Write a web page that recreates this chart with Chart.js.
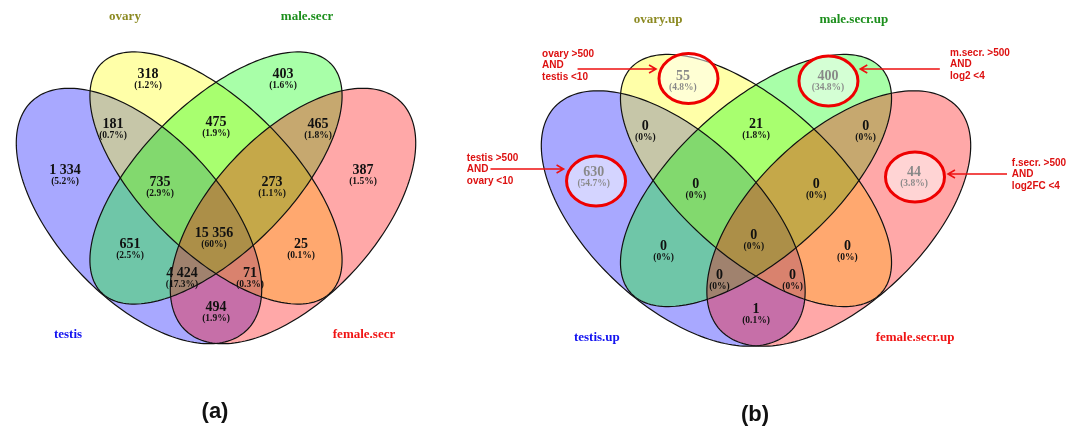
<!DOCTYPE html>
<html>
<head>
<meta charset="utf-8">
<script src="https://cdn.jsdelivr.net/npm/chart.js@4.4.1/dist/chart.umd.min.js"></script>
<style>
html, body { margin: 0; padding: 0; background: #fff; }
#wrap { width: 1081px; height: 429px; position: relative; }
</style>
</head>
<body>
<div id="wrap"><canvas id="venn"></canvas></div>
<script>
// region order: T=testis, O=ovary, M=male.secr, F=female.secr
const regions = ['T', 'O', 'M', 'F', 'TO', 'TM', 'TF', 'OM', 'OF', 'MF', 'TOM', 'TOF', 'TMF', 'OMF', 'TOMF'];

const setsA = ['testis', 'ovary', 'male.secr', 'female.secr'];
const countsA = [1334, 318, 403, 387, 181, 651, 494, 475, 25, 465, 735, 71, 4424, 273, 15356];
const pctA = [5.2, 1.2, 1.6, 1.5, 0.7, 2.5, 1.9, 1.9, 0.1, 1.8, 2.9, 0.3, 17.3, 1.1, 60];

const setsB = ['testis.up', 'ovary.up', 'male.secr.up', 'female.secr.up'];
const countsB = [630, 55, 400, 44, 0, 0, 1, 21, 0, 0, 0, 0, 0, 0, 0];
const pctB = [54.7, 4.8, 34.8, 3.8, 0, 0, 0.1, 1.8, 0, 0, 0, 0, 0, 0, 0];
const highlightB = ['T', 'O', 'M', 'F'];

const notesB = [
  ['testis >500', 'AND', 'ovary <10'],
  ['ovary >500', 'AND', 'testis <10'],
  ['m.secr. >500', 'AND', 'log2 <4'],
  ['f.secr. >500', 'AND', 'log2FC <4']
];
const panelTitles = ['(a)', '(b)'];

// ---- layout (units = px of panel a, offset from diagram centre, y down) ----
const fillCols = ['rgba(0,0,255,0.34)', 'rgba(255,255,0,0.34)', 'rgba(0,255,0,0.34)', 'rgba(255,0,0,0.34)'];
const catCols = ['#1414f0', '#8c8a22', '#1c8f1c', '#f01414'];
const ellipses = [ // cx, cy, a, b, angle
  [-77, 34, 157, 82, 47],
  [0, -4, 162, 74.5, 45],
  [0, -4, 162, 74.5, -45],
  [77, 34, 157, 82, -47]
];
const labelXY = {
  T: [-151, -12], O: [-68, -108], M: [67, -108], F: [147, -12],
  TO: [-103, -58], TM: [-86, 62], TF: [0, 125], OM: [0, -60], OF: [85, 62], MF: [102, -58],
  TOM: [-56, 0], TOF: [34, 91], TMF: [-34, 91], OMF: [56, 0], TOMF: [-2, 51]
};
const catXY = [[-148, 153], [-91, -165], [91, -165], [148, 153]];
const titleXY = [-1, 230];
// notes: text left, first line y, arrow x1, arrow x2, arrow y
const noteXY = [
  [-269, -26.5, -247, -179, -15.5],
  [-199, -130.5, -166, -93, -115.5],
  [180.5, -131.5, 171, 97, -115.5],
  [238, -21.5, 233.5, 178.6, -10.5]
];
const ringXY = { T: [-148.8, -3.5], O: [-62.8, -106], M: [67.4, -103.5], F: [147.9, -7.5] };

const W = 1081, H = 429;
const panelA = { cx: 216, cy: 182, sx: 1 };
const panelB = { cx: 756, cy: 184.5, sx: 1.075 };

function fmt(n) { return String(n).replace(/\B(?=(\d{3})+(?!\d))/g, ' '); }

const serif = '"Liberation Serif", "Times New Roman", serif';
const sans = '"Liberation Sans", Arial, sans-serif';

function ellipsePath(ctx, xs, ys, e) {
  const [cx, cy, a, b, deg] = e;
  const r = deg * Math.PI / 180;
  ctx.beginPath();
  for (let i = 0; i <= 200; i++) {
    const t = i / 200 * 2 * Math.PI;
    const x = cx + a * Math.cos(t) * Math.cos(r) - b * Math.sin(t) * Math.sin(r);
    const y = cy + a * Math.cos(t) * Math.sin(r) + b * Math.sin(t) * Math.cos(r);
    const px = xs.getPixelForValue(x), py = ys.getPixelForValue(y);
    if (i) ctx.lineTo(px, py); else ctx.moveTo(px, py);
  }
  ctx.closePath();
}

const panels = [
  { xs: 'xa', ys: 'ya', sets: setsA, counts: countsA, pct: pctA, ds: 0 },
  { xs: 'xb', ys: 'yb', sets: setsB, counts: countsB, pct: pctB, ds: 1 }
];

const vennPlugin = {
  id: 'venn',
  beforeDatasetsDraw(chart) {
    const ctx = chart.ctx;
    panels.forEach(p => {
      const xs = chart.scales[p.xs], ys = chart.scales[p.ys];
      ellipses.forEach((e, i) => {
        ellipsePath(ctx, xs, ys, e);
        ctx.fillStyle = fillCols[i];
        ctx.fill();
      });
      ctx.strokeStyle = '#111';
      ctx.lineWidth = 1.2;
      ellipses.forEach(e => { ellipsePath(ctx, xs, ys, e); ctx.stroke(); });
    });
  },
  afterDatasetsDraw(chart) {
    const ctx = chart.ctx;
    ctx.save();
    ctx.textAlign = 'center';
    ctx.textBaseline = 'middle';
    panels.forEach((p, pi) => {
      const xs = chart.scales[p.xs], ys = chart.scales[p.ys];
      const meta = chart.getDatasetMeta(p.ds);
      regions.forEach((r, i) => {
        const pt = meta.data[i];
        ctx.fillStyle = '#111';
        ctx.font = 'bold 14px ' + serif;
        ctx.fillText(fmt(p.counts[i]), pt.x, pt.y);
        ctx.font = 'bold 9.5px ' + serif;
        ctx.fillText('(' + p.pct[i] + '%)', pt.x, pt.y + 11.5);
      });
      p.sets.forEach((s, i) => {
        ctx.fillStyle = catCols[i];
        ctx.font = 'bold 13px ' + serif;
        ctx.fillText(s, xs.getPixelForValue(catXY[i][0]), ys.getPixelForValue(catXY[i][1]));
      });
      ctx.fillStyle = '#111';
      ctx.font = 'bold 22px ' + sans;
      ctx.fillText(panelTitles[pi], xs.getPixelForValue(titleXY[0]), ys.getPixelForValue(titleXY[1]));
    });

    // highlighted regions of panel b
    const xs = chart.scales.xb, ys = chart.scales.yb;
    highlightB.forEach(r => {
      const cx = xs.getPixelForValue(ringXY[r][0]), cy = ys.getPixelForValue(ringXY[r][1]);
      ctx.beginPath();
      ctx.ellipse(cx, cy, 29.5, 25, 0, 0, 2 * Math.PI);
      ctx.fillStyle = 'rgba(255,255,255,0.5)';
      ctx.fill();
      ctx.strokeStyle = '#ee0000';
      ctx.lineWidth = 3;
      ctx.stroke();
    });

    notesB.forEach((lines, i) => {
      const [tx, ty, x1, x2, ay] = noteXY[i];
      ctx.fillStyle = '#dd1111';
      ctx.font = 'bold 10px ' + sans;
      ctx.textAlign = 'left';
      lines.forEach((l, j) => ctx.fillText(l, xs.getPixelForValue(tx), ys.getPixelForValue(ty) + j * 11.5));
      const px1 = xs.getPixelForValue(x1), px2 = xs.getPixelForValue(x2), py = ys.getPixelForValue(ay);
      const dir = Math.sign(px2 - px1);
      ctx.strokeStyle = '#ee1111';
      ctx.lineWidth = 1.6;
      ctx.beginPath();
      ctx.moveTo(px1, py);
      ctx.lineTo(px2, py);
      ctx.moveTo(px2 - dir * 7, py - 4);
      ctx.lineTo(px2, py);
      ctx.lineTo(px2 - dir * 7, py + 4);
      ctx.stroke();
    });
    ctx.restore();
  }
};

const anchorData = regions.map(r => ({ x: labelXY[r][0], y: labelXY[r][1] }));

new Chart(document.getElementById('venn'), {
  type: 'scatter',
  data: {
    datasets: [
      { label: 'a', data: anchorData, xAxisID: 'xa', yAxisID: 'ya', pointRadius: 0 },
      { label: 'b', data: anchorData, xAxisID: 'xb', yAxisID: 'yb', pointRadius: 0 }
    ]
  },
  options: {
    responsive: true,
    maintainAspectRatio: false,
    animation: false,
    layout: { padding: 0 },
    plugins: { legend: { display: false }, tooltip: { enabled: false } },
    scales: {
      xa: { type: 'linear', display: false, min: -panelA.cx / panelA.sx, max: (W - panelA.cx) / panelA.sx },
      xb: { type: 'linear', display: false, min: -panelB.cx / panelB.sx, max: (W - panelB.cx) / panelB.sx },
      ya: { type: 'linear', display: false, reverse: true, min: -panelA.cy, max: H - panelA.cy },
      yb: { type: 'linear', display: false, reverse: true, min: -panelB.cy, max: H - panelB.cy }
    }
  },
  plugins: [vennPlugin]
});
</script>
</body>
</html>
